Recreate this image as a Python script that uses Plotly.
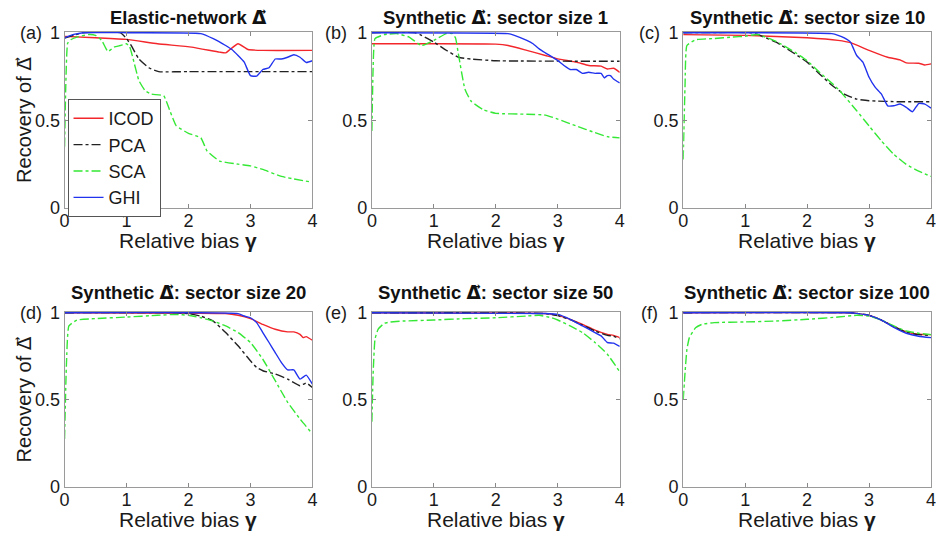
import plotly.graph_objects as go

# Panel (a): elastic-network
a_icod_g = [0, 0.5, 1.0, 1.5, 2.05, 2.5, 2.6, 2.67, 2.8, 2.96, 3.2, 4.0]
a_icod_v = [0.979, 0.971, 0.962, 0.937, 0.918, 0.889, 0.885, 0.904, 0.937, 0.904, 0.899, 0.899]
a_pca_g = [0, 0.15, 0.3, 0.9, 1.0, 1.07, 1.2, 1.36, 1.52, 2.0, 4.0]
a_pca_v = [0.97, 0.985, 1.0, 1.0, 0.966, 0.93, 0.85, 0.80, 0.778, 0.778, 0.778]
a_sca_g = [0, 0.02, 0.05, 0.1, 0.2, 0.4, 0.5, 0.6, 0.7, 0.8, 0.9, 1.0, 1.05, 1.1, 1.2, 1.3,
           1.4, 1.6, 1.7, 1.8, 2.0, 2.2, 2.3, 2.5, 2.8, 3.0, 3.2, 3.5, 4.0]
a_sca_v = [0.35, 0.7, 0.94, 0.96, 0.975, 0.99, 0.985, 0.956, 0.893, 0.918, 0.927, 0.937, 0.92,
           0.86, 0.727, 0.67, 0.65, 0.64, 0.555, 0.47, 0.426, 0.40, 0.325, 0.268, 0.25, 0.24,
           0.22, 0.18, 0.147]
a_ghi_g = [0, 0.15, 0.3, 1.0, 2.2, 2.4, 2.6, 2.7, 2.8, 2.9, 3.0, 3.1, 3.2, 3.3, 3.4, 3.5, 3.6,
           3.7, 3.8, 3.9, 4.0]
a_ghi_v = [0.97, 0.99, 1.0, 1.0, 0.995, 0.966, 0.927, 0.904, 0.87, 0.832, 0.755, 0.752, 0.79,
           0.80, 0.85, 0.85, 0.86, 0.874, 0.86, 0.83, 0.84]

# Panel (b): sector size 1
b_icod_g = [0, 1.0, 2.0, 2.2, 2.5, 2.8, 3.0, 3.3, 3.5, 3.7, 3.8, 3.9, 4.0]
b_icod_v = [0.937, 0.937, 0.935, 0.927, 0.899, 0.87, 0.851, 0.832, 0.813, 0.809, 0.793, 0.797, 0.774]
b_pca_g = [0, 0.7, 0.8, 1.0, 1.2, 1.4, 1.6, 2.0, 4.0]
b_pca_v = [1.0, 1.0, 0.985, 0.946, 0.90, 0.86, 0.85, 0.84, 0.837]
b_sca_g = [0, 0.02, 0.05, 0.2, 0.4, 0.6, 0.8, 1.0, 1.2, 1.3, 1.35, 1.4, 1.5, 1.6, 1.8, 2.0,
           2.5, 2.8, 3.0, 3.3, 3.6, 3.8, 4.0]
b_sca_v = [0.44, 0.8, 0.966, 0.989, 0.995, 0.975, 0.927, 0.956, 0.995, 0.995, 0.97, 0.87, 0.68,
           0.61, 0.56, 0.54, 0.535, 0.53, 0.507, 0.468, 0.43, 0.407, 0.40]
b_ghi_g = [0, 2.2, 2.3, 2.5, 2.6, 2.7, 2.8, 3.0, 3.1, 3.2, 3.3, 3.4, 3.5, 3.6, 3.7, 3.75, 3.8,
           3.85, 3.9, 4.0]
b_ghi_v = [1.0, 0.995, 0.985, 0.956, 0.937, 0.908, 0.885, 0.841, 0.813, 0.79, 0.79, 0.768,
           0.774, 0.768, 0.768, 0.742, 0.755, 0.755, 0.736, 0.713]

# Panel (c): sector size 10
c_icod_g = [0, 1.0, 2.0, 2.5, 2.7, 3.0, 3.3, 3.5, 3.6, 3.8, 3.9, 4.0]
c_icod_v = [0.989, 0.985, 0.971, 0.956, 0.943, 0.899, 0.86, 0.845, 0.828, 0.826, 0.816, 0.822]
c_pca_g = [0, 1.1, 1.2, 1.5, 1.8, 2.0, 2.2, 2.4, 2.6, 2.8, 3.0, 3.5, 4.0]
c_pca_v = [1.0, 1.0, 0.99, 0.946, 0.88, 0.832, 0.765, 0.70, 0.65, 0.621, 0.612, 0.606, 0.606]
c_sca_g = [0, 0.03, 0.06, 0.2, 0.5, 0.8, 1.0, 1.2, 1.5, 1.8, 2.0, 2.2, 2.5, 2.8, 3.0, 3.2,
           3.4, 3.6, 3.8, 4.0]
c_sca_v = [0.277, 0.7, 0.927, 0.96, 0.967, 0.975, 0.98, 0.99, 0.95, 0.889, 0.84, 0.775, 0.679,
           0.555, 0.468, 0.382, 0.306, 0.249, 0.21, 0.18]
c_ghi_g = [0, 2.4, 2.5, 2.6, 2.7, 2.75, 2.8, 2.9, 3.0, 3.1, 3.2, 3.3, 3.4, 3.5, 3.6, 3.7, 3.8,
           3.9, 4.0]
c_ghi_v = [1.0, 0.995, 0.985, 0.97, 0.946, 0.908, 0.87, 0.832, 0.746, 0.688, 0.65, 0.583,
           0.583, 0.593, 0.574, 0.549, 0.596, 0.593, 0.57]

# Panel (d): sector size 20
d_icod_g = [0, 2.6, 2.8, 3.0, 3.2, 3.4, 3.6, 3.7, 3.8, 3.85, 3.9, 4.0]
d_icod_v = [1.0, 0.995, 0.985, 0.966, 0.933, 0.905, 0.89, 0.89, 0.876, 0.857, 0.863, 0.842]
d_pca_g = [0, 1.8, 2.0, 2.2, 2.4, 2.6, 2.8, 3.0, 3.1, 3.2, 3.4, 3.6, 3.8, 3.9, 4.0]
d_pca_v = [1.0, 1.0, 0.995, 0.98, 0.952, 0.886, 0.81, 0.724, 0.686, 0.667, 0.648, 0.619,
           0.581, 0.597, 0.571]
d_sca_g = [0, 0.03, 0.07, 0.2, 0.5, 1.0, 1.5, 1.8, 2.0, 2.2, 2.4, 2.6, 2.8, 3.0, 3.2, 3.4,
           3.6, 3.8, 4.0]
d_sca_v = [0.276, 0.7, 0.924, 0.958, 0.966, 0.975, 0.985, 0.99, 0.985, 0.971, 0.952, 0.924,
           0.886, 0.829, 0.733, 0.61, 0.486, 0.39, 0.305]
d_ghi_g = [0, 2.8, 2.9, 3.0, 3.1, 3.2, 3.3, 3.4, 3.5, 3.6, 3.7, 3.8, 3.9, 4.0]
d_ghi_v = [1.0, 0.995, 0.981, 0.971, 0.943, 0.886, 0.829, 0.771, 0.714, 0.672, 0.672, 0.619,
           0.642, 0.59]

# Panel (e): sector size 50
e_icod_g = [0, 2.8, 3.0, 3.2, 3.4, 3.6, 3.8, 3.9, 4.0]
e_icod_v = [1.0, 0.995, 0.985, 0.962, 0.933, 0.90, 0.876, 0.87, 0.857]
e_pca_g = [0, 2.8, 3.0, 3.2, 3.4, 3.6, 3.8, 3.9, 4.0]
e_pca_v = [1.0, 0.995, 0.983, 0.96, 0.928, 0.895, 0.87, 0.865, 0.85]
e_sca_g = [0, 0.02, 0.05, 0.1, 0.2, 0.3, 0.5, 1.0, 1.5, 2.0, 2.5, 2.7, 2.9, 3.0, 3.2, 3.4,
           3.6, 3.8, 4.0]
e_sca_v = [0.375, 0.65, 0.848, 0.905, 0.939, 0.947, 0.952, 0.958, 0.966, 0.971, 0.981, 0.985,
           0.971, 0.958, 0.924, 0.886, 0.829, 0.762, 0.661]
e_ghi_g = [0, 2.8, 3.0, 3.2, 3.4, 3.6, 3.7, 3.8, 3.9, 4.0]
e_ghi_v = [1.0, 0.995, 0.99, 0.962, 0.924, 0.886, 0.867, 0.829, 0.825, 0.806]

# Panel (f): sector size 100
f_icod_g = [0, 2.7, 2.8, 3.0, 3.2, 3.4, 3.6, 3.8, 4.0]
f_icod_v = [1.0, 1.0, 0.996, 0.985, 0.958, 0.92, 0.89, 0.876, 0.874]
f_pca_g = [0, 2.7, 2.8, 3.0, 3.2, 3.4, 3.6, 3.8, 4.0]
f_pca_v = [1.0, 1.0, 0.996, 0.985, 0.958, 0.92, 0.888, 0.874, 0.87]
f_sca_g = [0, 0.03, 0.06, 0.1, 0.2, 0.3, 0.5, 1.0, 1.5, 2.0, 2.5, 2.8, 3.0, 3.2, 3.4, 3.6,
           3.8, 4.0]
f_sca_v = [0.5, 0.657, 0.79, 0.857, 0.914, 0.933, 0.943, 0.947, 0.952, 0.962, 0.975, 0.985,
           0.981, 0.958, 0.924, 0.895, 0.882, 0.874]
f_ghi_g = [0, 2.7, 2.8, 3.0, 3.2, 3.4, 3.6, 3.8, 4.0]
f_ghi_v = [1.0, 1.0, 0.996, 0.985, 0.958, 0.916, 0.882, 0.865, 0.857]

# vector Delta drawn with a font that has the combining arrow
DELTA = "<span style='font-family:DejaVu Sans'>\u0394\u20d7</span>"
panel_titles = ['Elastic-network ' + DELTA, 'Synthetic ' + DELTA + ': sector size 1',
                'Synthetic ' + DELTA + ': sector size 10', 'Synthetic ' + DELTA + ': sector size 20',
                'Synthetic ' + DELTA + ': sector size 50', 'Synthetic ' + DELTA + ': sector size 100']
panel_tags = ['(a)', '(b)', '(c)', '(d)', '(e)', '(f)']
method_names = ['ICOD', 'PCA', 'SCA', 'GHI']
x_ticks = [0, 1, 2, 3, 4]
y_ticks = [0, 0.5, 1]
y_tick_text = ['0', '0.5', '1']

panels = [
    [(a_icod_g, a_icod_v), (a_pca_g, a_pca_v), (a_sca_g, a_sca_v), (a_ghi_g, a_ghi_v)],
    [(b_icod_g, b_icod_v), (b_pca_g, b_pca_v), (b_sca_g, b_sca_v), (b_ghi_g, b_ghi_v)],
    [(c_icod_g, c_icod_v), (c_pca_g, c_pca_v), (c_sca_g, c_sca_v), (c_ghi_g, c_ghi_v)],
    [(d_icod_g, d_icod_v), (d_pca_g, d_pca_v), (d_sca_g, d_sca_v), (d_ghi_g, d_ghi_v)],
    [(e_icod_g, e_icod_v), (e_pca_g, e_pca_v), (e_sca_g, e_sca_v), (e_ghi_g, e_ghi_v)],
    [(f_icod_g, f_icod_v), (f_pca_g, f_pca_v), (f_sca_g, f_sca_v), (f_ghi_g, f_ghi_v)],
]

# Styling: the page body adds an 8px margin on every side, so the figure is
# sized to fit inside the window and screen positions are squeezed into it.
OFF = 8
W, H = 944 - 2 * OFF, 540 - 2 * OFF
FONT = 'Liberation Sans, Arial, sans-serif'
colors = ['#f2262b', '#222222', '#35e835', '#2233ee']
dashes = ['solid', 'dashdot', 'dashdot', 'solid']
col_px = [(65, 315), (375, 625), (689, 939)]
row_px = [(32, 208), (312, 487)]   # top, bottom in screen pixels
tag_x = [31, 339, 655]
title_y = [18, 292]


def px(x):
    x = 13 + (x - 13) * 923 / 931   # fit right edge into the visible window
    return (x - OFF) / W


def py(y):
    return 1 - (y - OFF) / H


fig = go.Figure()
layout = dict(
    width=W, height=H,
    margin=dict(l=0, r=0, t=0, b=0, autoexpand=False),
    paper_bgcolor='white', plot_bgcolor='white',
    font=dict(family=FONT, size=18, color='#1a1a1a'),
    showlegend=True,
    legend=dict(x=px(68), y=py(99), xanchor='left', yanchor='top',
                bgcolor='white', bordercolor='#555555', borderwidth=1,
                font=dict(size=18, color='#1a1a1a'), tracegroupgap=0,
                itemwidth=30),
)
annotations = []

for p, series in enumerate(panels):
    r, c = divmod(p, 3)
    k = '' if p == 0 else str(p + 1)
    x0, x1 = col_px[c]
    top, bot = row_px[r]
    layout['xaxis' + k] = dict(
        domain=[px(x0), px(x1)], anchor='y' + k, range=[0, 4],
        tickvals=x_ticks, ticks='inside', ticklen=4, tickcolor='#888888',
        showline=True, linecolor='#9a9a9a', linewidth=1, mirror='ticks',
        showgrid=False, zeroline=False, fixedrange=True,
        tickfont=dict(size=18), ticklabelstandoff=-4, ticklabeloverflow='allow',
    )
    layout['yaxis' + k] = dict(
        domain=[py(bot), py(top)], anchor='x' + k, range=[0, 1.004],
        tickvals=y_ticks, ticktext=y_tick_text, ticks='inside', ticklen=4,
        tickcolor='#888888', showline=True, linecolor='#9a9a9a', linewidth=1,
        mirror='ticks', showgrid=False, zeroline=False, fixedrange=True,
        tickfont=dict(size=18), ticklabeloverflow='allow',
    )
    for m, (g, v) in enumerate(series):
        fig.add_trace(go.Scatter(
            x=g, y=v, mode='lines', name=method_names[m],
            xaxis='x' + k, yaxis='y' + k, showlegend=(p == 0),
            line=dict(color=colors[m], width=1.4, dash=dashes[m],
                      shape='spline', smoothing=0.4),
        ))
    xc = px((x0 + x1) / 2)
    # panel title
    annotations.append(dict(text='<b>' + panel_titles[p] + '</b>', x=xc, y=py(title_y[r]),
                            xref='paper', yref='paper', showarrow=False,
                            font=dict(size=18.5, color='#111111'),
                            xanchor='center', yanchor='middle'))
    # panel tag
    annotations.append(dict(text=panel_tags[p], x=px(tag_x[c]), y=py(top + 1),
                            xref='paper', yref='paper', showarrow=False,
                            font=dict(size=18), xanchor='center', yanchor='middle'))
    # x axis title
    annotations.append(dict(text='Relative bias <b>\u03b3</b>', x=xc, y=py(bot + 32),
                            xref='paper', yref='paper', showarrow=False,
                            font=dict(size=21), xanchor='center', yanchor='middle'))
    if c == 0:
        annotations.append(dict(text='Recovery of ' + DELTA, x=px(24),
                                y=py((top + bot) / 2), xref='paper', yref='paper',
                                showarrow=False, textangle=-90, font=dict(size=20),
                                xanchor='center', yanchor='middle'))

layout['annotations'] = annotations
fig.update_layout(**layout)
fig.write_html("out.html")
